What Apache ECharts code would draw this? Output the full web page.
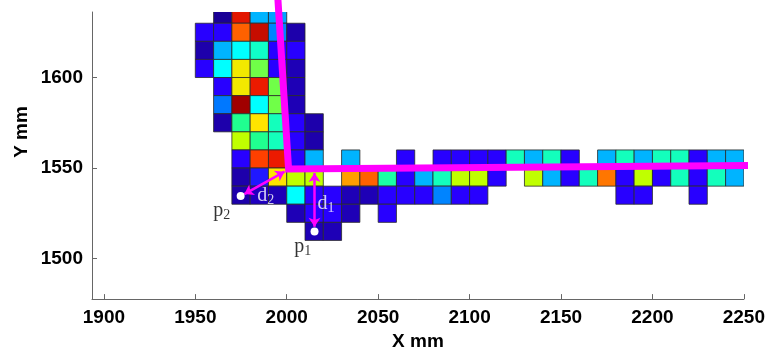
<!DOCTYPE html>
<html><head><meta charset="utf-8">
<script src="https://cdn.jsdelivr.net/npm/echarts@6/dist/echarts.min.js"></script>
<style>html,body{margin:0;padding:0;background:#fff}#c{width:768px;height:356px}</style>
</head><body><div id="c"></div>
<script>
const xTicks = [1900, 1950, 2000, 2050, 2100, 2150, 2200, 2250];
const yTicks = [1500, 1550, 1600];

const rowY = [1635, 1625, 1615, 1605, 1595, 1585, 1575, 1565, 1555, 1545, 1535, 1525, 1515];
const rowX = [
  [1965, 1975, 1985, 1995],
  [1955, 1965, 1975, 1985, 1995, 2005],
  [1955, 1965, 1975, 1985, 1995, 2005],
  [1955, 1965, 1975, 1985, 1995, 2005],
  [1965, 1975, 1985, 1995, 2005],
  [1965, 1975, 1985, 1995, 2005],
  [1965, 1975, 1985, 1995, 2005, 2015],
  [1975, 1985, 1995, 2005, 2015],
  [1975, 1985, 1995, 2005, 2015, 2035, 2065, 2085, 2095, 2105, 2115, 2125, 2135, 2145, 2155, 2175, 2185, 2195, 2205, 2215, 2225, 2235, 2245],
  [1975, 1985, 1995, 2005, 2015, 2035, 2045, 2055, 2065, 2075, 2085, 2095, 2105, 2115, 2135, 2145, 2155, 2165, 2175, 2185, 2195, 2205, 2215, 2225, 2235, 2245],
  [1975, 1985, 1995, 2005, 2015, 2025, 2035, 2045, 2055, 2065, 2075, 2085, 2095, 2105, 2185, 2195, 2225],
  [2005, 2015, 2025, 2035, 2055],
  [2015, 2025]
];
const rowV = [
  [0.0, 0.93, 0.3, 0.27],
  [0.1, 0.1, 0.84, 0.96, 0.22, 0.02],
  [0.02, 0.3, 0.4, 0.45, 0.1, 0.1],
  [0.1, 0.4, 0.68, 0.55, 0.1, 0.03],
  [0.1, 0.68, 0.92, 0.55, 0.03],
  [0.2, 1.0, 0.4, 0.55, 0.03],
  [0.02, 0.5, 0.7, 0.46, 0.1, 0.02],
  [0.6, 0.5, 0.46, 0.1, 0.02],
  [0.1, 0.87, 0.92, 0.1, 0.3, 0.3, 0.1, 0.1, 0.1, 0.1, 0.1, 0.46, 0.3, 0.46, 0.1, 0.3, 0.46, 0.3, 0.46, 0.46, 0.1, 0.3, 0.3],
  [0.02, 0.12, 0.7, 0.6, 0.6, 0.78, 0.84, 0.48, 0.1, 0.3, 0.46, 0.6, 0.6, 0.1, 0.6, 0.3, 0.1, 0.46, 0.82, 0.1, 0.6, 0.1, 0.46, 0.1, 0.46, 0.3],
  [0.02, 0.04, 0.03, 0.4, 0.1, 0.1, 0.03, 0.03, 0.1, 0.1, 0.1, 0.22, 0.1, 0.1, 0.1, 0.1, 0.1],
  [0.03, 0.1, 0.1, 0.03, 0.1],
  [0.03, 0.03]
];

// magenta reference path (corner line)
const pathX = [1995, 2001, 2256];
const pathY = [1646, 1549.5, 1551.5];
// points p1, p2
const ptX = [2015.2, 1974.8];
const ptY = [1514.9, 1534.5];
// distance arrows d1, d2 : [x1,y1,x2,y2]
const arrowD1 = [2015.2, 1517.5, 2015.2, 1547.3];
const arrowD2 = [1976.8, 1535.6, 1998.8, 1548.0];
// annotation labels
const annText = ['d', 'd', 'p', 'p'];
const annSub = ['1', '2', '1', '2'];
const annX = [2021.5, 1988.5, 2008.7, 1964.4];
const annY = [1530.0, 1534.5, 1506.5, 1526.5];
const annColor = ['#ffffff', '#ffffff', '#000000', '#000000'];

const CELL = 10;
const cells = [];
rowY.forEach((y, i) => rowX[i].forEach((x, j) => cells.push([x, y, rowV[i][j]])));

const chart = echarts.init(document.getElementById('c'), null, {renderer: 'canvas'});
const fontFam = 'Liberation Sans, Arial, sans-serif';
const axisFont = {fontFamily: fontFam, fontWeight: 'bold', fontSize: 19, color: '#000'};

chart.setOption({
  animation: false,
  backgroundColor: '#fff',
  grid: {left: 92, right: 23, top: 12, bottom: 53, containLabel: false},
  xAxis: {
    type: 'value', min: 1893.5, max: 2250,
    name: 'X mm', nameLocation: 'middle', nameGap: 30,
    nameTextStyle: axisFont,
    axisLine: {show: true, onZero: false, lineStyle: {color: '#666', width: 1}},
    axisTick: {show: true, inside: true, length: 5, lineStyle: {color: '#666'}, customValues: xTicks},
    axisLabel: Object.assign({margin: 9, customValues: xTicks, formatter: v => String(v)}, axisFont),
    splitLine: {show: false}
  },
  yAxis: {
    type: 'value', min: 1477.6, max: 1636.2,
    axisLine: {show: true, onZero: false, lineStyle: {color: '#666', width: 1}},
    axisTick: {show: true, inside: true, length: 5, lineStyle: {color: '#666'}, customValues: yTicks},
    axisLabel: Object.assign({margin: 9, customValues: yTicks, formatter: v => String(v)}, axisFont),
    splitLine: {show: false}
  },
  graphic: [{
    type: 'text', x: 22, y: 132, rotation: Math.PI / 2,
    style: {text: 'Y mm', align: 'center', verticalAlign: 'middle',
      font: 'bold 19px ' + fontFam, fill: '#000'}
  }],
  visualMap: {
    type: 'continuous', show: false, min: 0, max: 1, dimension: 2, seriesIndex: 0,
    inRange: {color: ['#1a0096', '#2800ff', '#0078ff', '#00b4ff', '#00ffff', '#20ff90', '#c0ff00', '#ffe400', '#ff8c00', '#ff2000', '#a00000']}
  },
  series: [
    {
      type: 'custom', clip: true, data: cells, z: 2,
      renderItem: function (params, api) {
        const x = api.value(0), y = api.value(1);
        const a = api.coord([x - CELL / 2, y + CELL / 2]);
        const b = api.coord([x + CELL / 2, y - CELL / 2]);
        return {
          type: 'rect',
          shape: {x: a[0], y: a[1], width: b[0] - a[0], height: b[1] - a[1]},
          style: {fill: api.visual('color'), stroke: '#2a2a2a', lineWidth: 0.8}
        };
      }
    },
    {
      type: 'line', clip: false, z: 5, showSymbol: false, symbol: 'none',
      data: pathX.map((x, i) => [x, pathY[i]]),
      lineStyle: {color: '#ff00ff', width: 7, join: 'miter', cap: 'butt'}
    },
    {
      type: 'lines', coordinateSystem: 'cartesian2d', z: 6,
      symbol: ['arrow', 'arrow'], symbolSize: 9,
      lineStyle: {color: '#ff00ff', width: 2.5, opacity: 1, curveness: 0},
      data: [arrowD1, arrowD2].map(a => ({coords: [[a[0], a[1]], [a[2], a[3]]]}))
    },
    {
      type: 'scatter', z: 7, symbol: 'circle', symbolSize: 8,
      itemStyle: {color: '#ffffff', opacity: 1},
      data: ptX.map((x, i) => [x, ptY[i]])
    },
    {
      type: 'scatter', z: 8, symbolSize: 0,
      data: annX.map((x, i) => ({
        value: [x, annY[i]],
        label: {
          show: true, position: 'inside',
          formatter: '{m|' + annText[i] + '}{s|' + annSub[i] + '}',
          rich: {
            m: {fontFamily: 'Liberation Serif, Times New Roman, serif', fontSize: 20, color: annColor[i]},
            s: {fontFamily: 'Liberation Serif, Times New Roman, serif', fontSize: 14, color: annColor[i], padding: [9, 0, 0, 0]}
          }
        }
      }))
    }
  ]
});
</script>
</body></html>
